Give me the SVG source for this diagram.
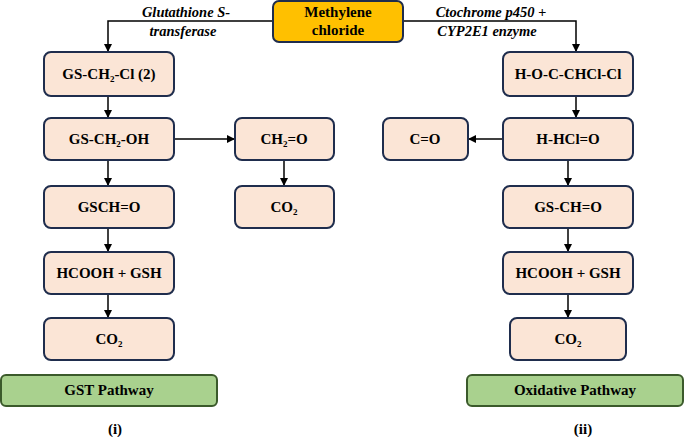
<svg xmlns="http://www.w3.org/2000/svg" width="685" height="437" viewBox="0 0 685 437">
<style>
.n{fill:#fbe5d6;stroke:#1f2d4d;stroke-width:2}
.g{fill:#a9d18e;stroke:#3b5a2b;stroke-width:2}
.o{fill:#ffc000;stroke:#1f2d4d;stroke-width:2}
text{font-family:'Liberation Serif','DejaVu Serif',serif;font-weight:bold;font-size:15px;text-anchor:middle;fill:#000}
.i{font-style:italic;font-size:14.5px}
.c line,.c path{stroke:#000;stroke-width:1.5;fill:none;marker-end:url(#a)}
</style>
<defs><marker id="a" markerWidth="8" markerHeight="8" refX="7" refY="4" orient="auto" markerUnits="userSpaceOnUse"><path d="M0,0L8,4L0,8z" fill="#000"/></marker></defs>
<g class="c">
<path d="M273,21H108V51"/>
<path d="M403,21H576V51"/>
<line x1="108" y1="96" x2="108" y2="117"/>
<line x1="108" y1="160" x2="108" y2="185"/>
<line x1="108" y1="228" x2="108" y2="251"/>
<line x1="108" y1="294" x2="108" y2="317"/>
<line x1="174" y1="139" x2="234" y2="139"/>
<line x1="284" y1="160" x2="284" y2="185"/>
<line x1="576" y1="96" x2="576" y2="117"/>
<line x1="503" y1="139" x2="469" y2="139"/>
<line x1="568" y1="160" x2="568" y2="185"/>
<line x1="568" y1="228" x2="568" y2="251"/>
<line x1="568" y1="294" x2="568" y2="317"/>
</g>
<text class="i" x="186" y="17">Glutathione S-</text>
<text class="i" x="183" y="36">transferase</text>
<text class="i" x="491" y="17">Ctochrome p450 +</text>
<text class="i" x="487" y="36">CYP2E1 enzyme</text>
<g id="mc"><rect class="o" x="273" y="1" width="130" height="41" rx="6"/><text x="338" y="17">Methylene</text><text x="338" y="35">chloride</text></g>
<g id="l1"><rect class="n" x="44" y="52" width="130" height="44" rx="7"/><text x="109" y="79">GS-CH<tspan font-size="9" dy="3">2</tspan><tspan dy="-3">-Cl (2)</tspan></text></g>
<g id="l2"><rect class="n" x="44" y="118" width="130" height="42" rx="7"/><text x="109" y="144">GS-CH<tspan font-size="9" dy="3">2</tspan><tspan dy="-3">-OH</tspan></text></g>
<g id="l3"><rect class="n" x="44" y="186" width="130" height="42" rx="7"/><text x="109" y="212">GSCH=O</text></g>
<g id="l4"><rect class="n" x="44" y="252" width="130" height="42" rx="7"/><text x="109" y="278">HCOOH + GSH</text></g>
<g id="l5"><rect class="n" x="44" y="318" width="130" height="42" rx="7"/><text x="109" y="344">CO<tspan font-size="9" dy="3">2</tspan></text></g>
<g id="m1"><rect class="n" x="235" y="118" width="99" height="42" rx="7"/><text x="284" y="144">CH<tspan font-size="9" dy="3">2</tspan><tspan dy="-3">=O</tspan></text></g>
<g id="m2"><rect class="n" x="235" y="186" width="99" height="42" rx="7"/><text x="284" y="212">CO<tspan font-size="9" dy="3">2</tspan></text></g>
<g id="r1"><rect class="n" x="503" y="52" width="130" height="44" rx="7"/><text x="568" y="79">H-O-C-CHCl-Cl</text></g>
<g id="r2"><rect class="n" x="503" y="118" width="130" height="42" rx="7"/><text x="568" y="144">H-HCl=O</text></g>
<g id="r0"><rect class="n" x="383" y="118" width="85" height="42" rx="7"/><text x="425" y="144">C=O</text></g>
<g id="r3"><rect class="n" x="503" y="186" width="130" height="42" rx="7"/><text x="568" y="212">GS-CH=O</text></g>
<g id="r4"><rect class="n" x="503" y="252" width="130" height="42" rx="7"/><text x="568" y="278">HCOOH + GSH</text></g>
<g id="r5"><rect class="n" x="510" y="318" width="116" height="42" rx="7"/><text x="568" y="344">CO<tspan font-size="9" dy="3">2</tspan></text></g>
<g id="gst"><rect class="g" x="1" y="375" width="216" height="31" rx="5"/><text x="109" y="395">GST Pathway</text></g>
<g id="ox"><rect class="g" x="467" y="375" width="216" height="31" rx="5"/><text x="575" y="395">Oxidative Pathway</text></g>
<text x="115" y="434">(i)</text>
<text x="583" y="434">(ii)</text>
</svg>
